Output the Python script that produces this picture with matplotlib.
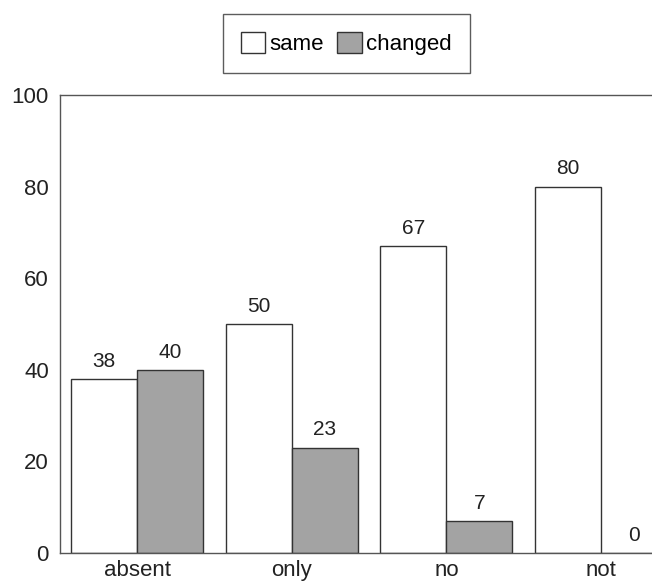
import numpy as np
import matplotlib.pyplot as plt

plt.rcParams['font.family'] = ['Liberation Sans', 'DejaVu Sans']

categories = ['absent', 'only', 'no', 'not']
same = [38, 50, 67, 80]
changed = [40, 23, 7, 0]

x = np.arange(len(categories))
w = 0.427

fig = plt.figure(figsize=(6.52, 5.83), dpi=100)
ax = fig.add_axes([0.092, 0.0515, 0.908, 0.7855])

b1 = ax.bar(x - w / 2, same, w, color='white', edgecolor='#333333', linewidth=1.0, label='same')
b2 = ax.bar(x + w / 2, changed, w, color='#a3a3a3', edgecolor='#333333', linewidth=1.0, label='changed')

for rect, v in zip(list(b1) + list(b2), same + changed):
    ax.text(rect.get_x() + rect.get_width() / 2, v + 1.8, str(v),
            ha='center', va='bottom', fontsize=15, color='#222222')

ax.set_xlim(-0.5, 3.33)
ax.set_ylim(0, 100)
ax.set_yticks([0, 20, 40, 60, 80, 100])
ax.set_xticks(x)
ax.set_xticklabels(categories)
ax.tick_params(axis='both', length=0, labelsize=16, colors='#222222', pad=8)
ax.tick_params(axis='x', pad=5)
ax.spines['right'].set_visible(False)
for s in ['left', 'top', 'bottom']:
    ax.spines[s].set_color('#555555')
    ax.spines[s].set_linewidth(1.0)

leg = fig.legend(loc='center', bbox_to_anchor=(0.531, 0.925), ncol=2,
                 fontsize=16, frameon=True, fancybox=False, edgecolor='#333333',
                 handlelength=1.1, handleheight=1.1, handletextpad=0.2,
                 columnspacing=0.6, borderpad=0.8)
leg.get_frame().set_linewidth(1.0)

fig.savefig('out.png', dpi=100)
